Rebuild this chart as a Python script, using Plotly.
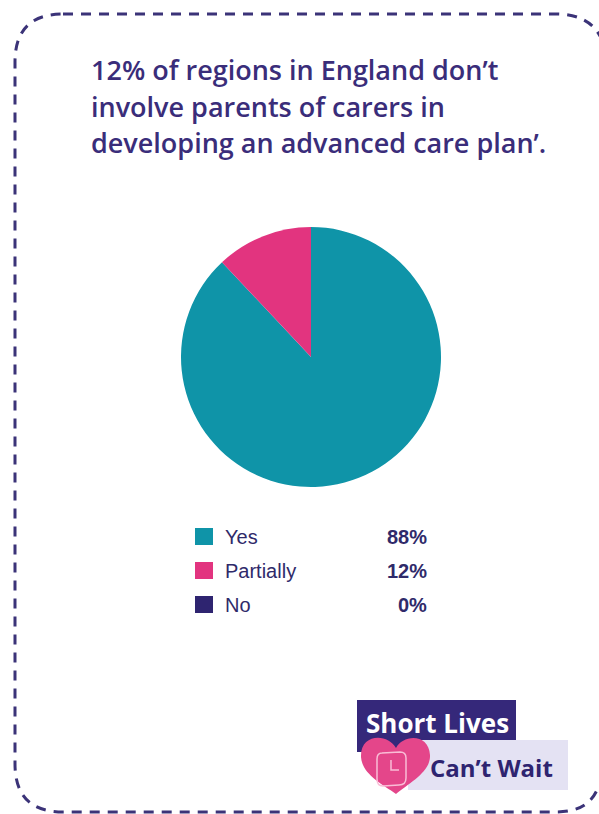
import plotly.graph_objects as go

# Survey answers and their shares (%)
labels = ["Yes", "Partially", "No"]
values = [88, 12, 0]
colors = ["#0f94a8", "#e2347f", "#2e2470"]

title_lines = [
    "12% of regions in England don’t",
    "involve parents of carers in",
    "developing an advanced care plan’.",
]

W, H = 599, 814
PURPLE = "#3a2d7a"


def px(x):
    return x / W


def py(y):
    return 1 - y / H


fig = go.Figure()

# Pie placed in paper space (pixel box converted to fractions)
cx, cy, r = 311, 357, 130
fig.add_trace(go.Pie(
    labels=labels, values=values,
    marker=dict(colors=colors, line=dict(width=0)),
    sort=False, direction="clockwise", rotation=0,
    textinfo="none", hoverinfo="label+percent",
    showlegend=False,
    domain=dict(x=[px(cx - r), px(cx + r)], y=[py(cy + r), py(cy - r)]),
))

shapes = []
annotations = []


def path_paper(cmds):
    """Build an SVG path in paper units from (command, [(x, y), ...]) pixel pairs."""
    out = []
    for c, pts in cmds:
        coords = " ".join(f"{px(x):.5f},{py(y):.5f}" for x, y in pts)
        out.append(f"{c} {coords}".strip())
    return " ".join(out)


# Dashed rounded frame; its right side bends away off the page
L, T, B, rad = 15, 14, 812, 48
frame = path_paper([
    ("M", [(L + rad, T)]), ("L", [(556, T)]),
    ("Q", [(588, T), (600, 36)]), ("L", [(660, 150)]),
    ("L", [(660, 680)]), ("L", [(596, 792)]),
    ("Q", [(586, B), (556, B)]),
    ("L", [(L + rad, B)]), ("Q", [(L, B), (L, B - rad)]),
    ("L", [(L, T + rad)]), ("Q", [(L, T), (L + rad, T)]), ("Z", []),
])
shapes.append(dict(type="path", path=frame, xref="paper", yref="paper",
                   line=dict(color="#3b3378", width=3, dash="10px,8px")))

# Title
for i, line in enumerate(title_lines):
    annotations.append(dict(
        x=px(89), y=py(70 + i * 36.5), xref="paper", yref="paper", text=line,
        showarrow=False, xanchor="left", yanchor="middle",
        font=dict(family="Open Sans", size=27, color=PURPLE, weight=600),
    ))

# Custom legend with values
row_y = [537, 571, 605]
for lab, val, col, yy in zip(labels, values, colors, row_y):
    shapes.append(dict(type="rect", xref="paper", yref="paper",
                       x0=px(195), x1=px(213), y0=py(yy - 9), y1=py(yy + 8),
                       fillcolor=col, line=dict(width=0)))
    annotations.append(dict(
        x=px(223), y=py(yy), xref="paper", yref="paper", text=lab, showarrow=False,
        xanchor="left", yanchor="middle",
        font=dict(family="Liberation Sans", size=20, color="#2f2a6a"),
    ))
    annotations.append(dict(
        x=px(429), y=py(yy), xref="paper", yref="paper", text=f"<b>{val}%</b>",
        showarrow=False, xanchor="right", yanchor="middle",
        font=dict(family="Liberation Sans", size=20, color="#2f2a6a"),
    ))

# Logo: "Short Lives Can't Wait"
shapes.append(dict(type="rect", xref="paper", yref="paper",
                   x0=px(357), x1=px(516), y0=py(752), y1=py(700),
                   fillcolor="#35287a", line=dict(width=0), layer="above"))
shapes.append(dict(type="rect", xref="paper", yref="paper",
                   x0=px(408), x1=px(568), y0=py(790), y1=py(740),
                   fillcolor="#e4e2f3", line=dict(width=0), layer="above"))
heart = path_paper([
    ("M", [(396, 748)]),
    ("C", [(388, 733), (360, 733), (361, 757)]),
    ("C", [(362, 774), (382, 784), (396, 794)]),
    ("C", [(409, 783), (431, 772), (430, 755)]),
    ("C", [(429, 733), (403, 734), (396, 748)]),
    ("Z", []),
])
shapes.append(dict(type="path", path=heart, xref="paper", yref="paper",
                   fillcolor="#e4468a", line=dict(width=0), layer="above"))
clock = path_paper([
    ("M", [(382, 753)]), ("L", [(400, 752)]), ("Q", [(406, 752), (406, 758)]),
    ("L", [(406, 778)]), ("Q", [(406, 785), (399, 785)]),
    ("L", [(383, 786)]), ("Q", [(377, 786), (377, 779)]),
    ("L", [(377, 759)]), ("Q", [(377, 753), (382, 753)]), ("Z", []),
])
shapes.append(dict(type="path", path=clock, xref="paper", yref="paper",
                   line=dict(color="#f9bdd6", width=1.5), layer="above"))
hands = path_paper([("M", [(391, 760)]), ("L", [(391, 770)]), ("L", [(399, 770)])])
shapes.append(dict(type="path", path=hands, xref="paper", yref="paper",
                   line=dict(color="#f9bdd6", width=1.5), layer="above"))
annotations.append(dict(
    x=px(437), y=py(723), xref="paper", yref="paper", text="Short Lives",
    showarrow=False, xanchor="center", yanchor="middle",
    font=dict(family="Open Sans", size=26, color="white", weight=700),
))
annotations.append(dict(
    x=px(491), y=py(767), xref="paper", yref="paper", text="Can’t Wait",
    showarrow=False, xanchor="center", yanchor="middle",
    font=dict(family="Open Sans", size=24, color="#2e2470", weight=700),
))

fig.update_layout(
    width=W, height=H,
    margin=dict(l=0, r=0, t=0, b=0),
    paper_bgcolor="white", plot_bgcolor="white",
    shapes=shapes, annotations=annotations,
    showlegend=False,
)

fig.write_html("out.html", config=dict(displayModeBar=False))
